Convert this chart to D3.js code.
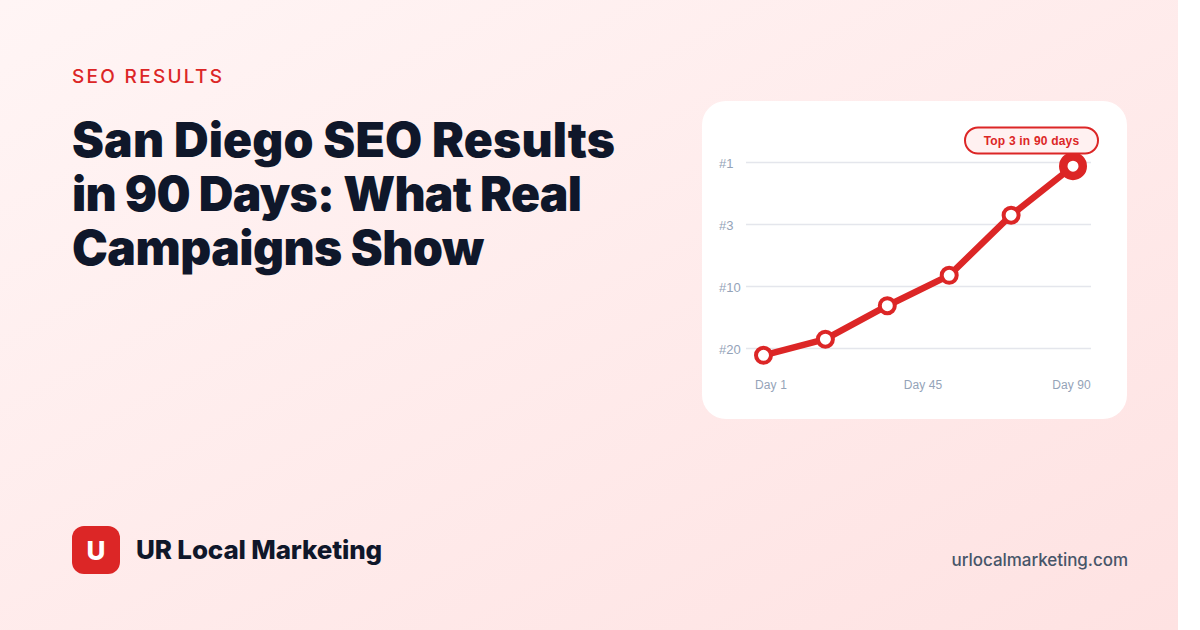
<!DOCTYPE html>
<html lang="en">
<head>
<meta charset="UTF-8">
<title>San Diego SEO Results in 90 Days</title>
<script src="https://d3js.org/d3.v7.min.js"></script>
<style>
  html, body { margin: 0; padding: 0; background: #fff; }
  body { width: 1200px; height: 630px; overflow: hidden; }
  svg { display: block; }
</style>
</head>
<body>
<div id="chart"></div>
<script>
  // rank positions are evenly spaced bands, not a true numeric scale
  const rankLabels = ["#1", "#3", "#10", "#20"];
  const dayLabels = ["Day 1", "Day 45", "Day 90"];
  const days = [1, 19, 37, 55, 73, 91];
  // y position expressed as rank band index (0 = #1 line, 3 = #20 line)
  const rankIndex = [3.11, 2.85, 2.31, 1.82, 0.85, 0.06];

  const width = 1200, height = 630;

  const svg = d3.select("#chart").append("svg")
    .attr("width", width).attr("height", height);

  const defs = svg.append("defs");
  const grad = defs.append("linearGradient").attr("id", "bg")
    .attr("x1", "0%").attr("y1", "0%").attr("x2", "100%").attr("y2", "100%");
  grad.append("stop").attr("offset", "0%").attr("stop-color", "#fff5f5");
  grad.append("stop").attr("offset", "100%").attr("stop-color", "#fee2e2");

  // the picture stops at 1178, the rest of the window stays white
  svg.append("rect").attr("width", 1178).attr("height", height).attr("fill", "url(#bg)");

  const sans = "Inter, 'Noto Sans', sans-serif";
  const navy = "#0f172a";
  const red = "#dc2626";

  svg.append("text").attr("x", 72).attr("y", 83)
    .attr("font-family", sans).attr("font-size", 19).attr("font-weight", 500)
    .attr("letter-spacing", 2.3).attr("fill", red).text("SEO RESULTS");

  const title = ["San Diego SEO Results", "in 90 Days: What Real", "Campaigns Show"];
  const titleWidths = [543, 510, 412];
  svg.append("g").selectAll("text").data(title).join("text")
    .attr("x", 72).attr("y", (d, i) => 157 + i * 54)
    .attr("font-family", sans).attr("font-size", 48).attr("font-weight", 900)
    .attr("textLength", (d, i) => titleWidths[i]).attr("lengthAdjust", "spacing")
    .attr("fill", navy).text(d => d);

  // logo
  svg.append("rect").attr("x", 72).attr("y", 526).attr("width", 48).attr("height", 48)
    .attr("rx", 12).attr("fill", red);
  svg.append("text").attr("x", 96).attr("y", 560).attr("text-anchor", "middle")
    .attr("font-family", sans).attr("font-size", 26).attr("font-weight", 800)
    .attr("fill", "#fff").text("U");
  svg.append("text").attr("x", 136).attr("y", 559)
    .attr("font-family", sans).attr("font-size", 26).attr("font-weight", 800)
    .attr("letter-spacing", -0.15).attr("fill", navy).text("UR Local Marketing");
  svg.append("text").attr("x", 1128).attr("y", 566).attr("text-anchor", "end")
    .attr("font-family", sans).attr("font-size", 17).attr("font-weight", 500)
    .attr("letter-spacing", -0.05).attr("fill", "#475569").text("urlocalmarketing.com");

  // card
  svg.append("rect").attr("x", 702).attr("y", 101).attr("width", 425).attr("height", 318)
    .attr("rx", 24).attr("fill", "#fff");

  const y = d3.scaleLinear().domain([0, 3]).range([162.5, 348.5]);
  const x = d3.scaleLinear().domain([1, 91]).range([763.5, 1073]);
  const chartFont = "'Liberation Sans', Arial, sans-serif";

  const g = svg.append("g");
  g.selectAll("line.grid").data(rankLabels).join("line").attr("class", "grid")
    .attr("x1", 746).attr("x2", 1091)
    .attr("y1", (d, i) => y(i)).attr("y2", (d, i) => y(i))
    .attr("stroke", "#e4e6ec").attr("stroke-width", 1.5);
  g.selectAll("text.rank").data(rankLabels).join("text").attr("class", "rank")
    .attr("x", 719).attr("y", (d, i) => y(i) + 5)
    .attr("font-family", chartFont).attr("font-size", 13).attr("fill", "#94a3b8").text(d => d);

  const xLabelPos = [771, 923, 1071.5];
  g.selectAll("text.day").data(dayLabels).join("text").attr("class", "day")
    .attr("x", (d, i) => xLabelPos[i]).attr("y", 389).attr("text-anchor", "middle")
    .attr("font-family", chartFont).attr("font-size", 12).attr("letter-spacing", 0.1)
    .attr("fill", "#94a3b8").text(d => d);

  const line = d3.line().x((d, i) => x(days[i])).y(d => y(d));
  g.append("path").datum(rankIndex).attr("d", line)
    .attr("fill", "none").attr("stroke", red).attr("stroke-width", 6.5)
    .attr("stroke-linejoin", "round").attr("stroke-linecap", "round");

  const last = rankIndex.length - 1;
  g.selectAll("circle.pt").data(rankIndex).join("circle").attr("class", "pt")
    .attr("cx", (d, i) => x(days[i])).attr("cy", d => y(d))
    .attr("r", (d, i) => i === last ? 9.75 : 7.5)
    .attr("fill", "#fff").attr("stroke", red)
    .attr("stroke-width", (d, i) => i === last ? 8.5 : 4);

  // callout
  svg.append("rect").attr("x", 965).attr("y", 127.5).attr("width", 133).attr("height", 26)
    .attr("rx", 13).attr("fill", "#fff1f1").attr("stroke", red).attr("stroke-width", 2);
  svg.append("text").attr("x", 1031.5).attr("y", 145).attr("text-anchor", "middle")
    .attr("font-family", chartFont).attr("font-size", 12).attr("font-weight", 700)
    .attr("letter-spacing", 0.2).attr("fill", red).text("Top 3 in 90 days");
</script>
</body>
</html>
